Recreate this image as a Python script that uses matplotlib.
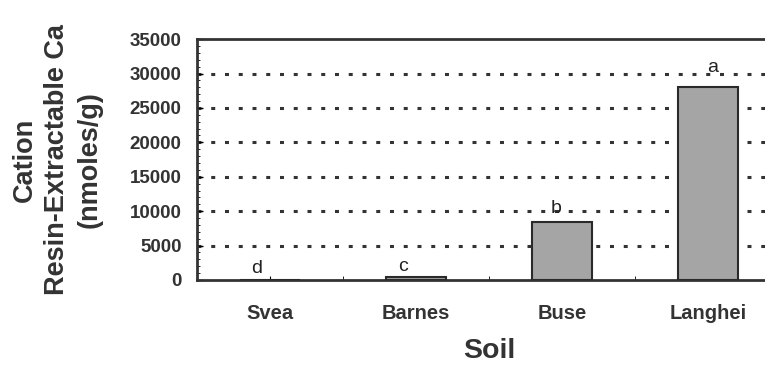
import matplotlib.pyplot as plt
import numpy as np

# Soil data
soils = ["Svea", "Barnes", "Buse", "Langhei"]
ca_values = [50, 400, 8500, 28000]
letters = ["d", "c", "b", "a"]

plt.rcParams['font.family'] = ['Liberation Sans', 'DejaVu Sans']

fig = plt.figure(figsize=(7.65, 3.66), dpi=100)
ax = fig.add_axes([0.2575, 0.235, 0.7635, 0.658])

x = np.arange(len(soils))
ax.bar(x, ca_values, width=0.41, color="#a5a5a5", edgecolor="#2a2a2a",
       linewidth=1.5, zorder=3)

# significance letters
for xi, v, lt in zip(x, ca_values, letters):
    shift = -0.09 if v < 1000 else (0.03 if v > 20000 else -0.04)
    ax.text(xi + shift, v + 900 + 0.045 * v, lt, ha="center", va="baseline",
            fontsize=14, color="#222222", zorder=4)

ax.set_xlim(-0.5, 3.5)
ax.set_ylim(0, 35000)
ax.set_yticks(np.arange(0, 35001, 5000))
ax.set_yticks(np.arange(0, 35001, 1000), minor=True)
ax.set_xticks(x)
ax.set_xticks(np.arange(-0.5, 3.6, 1), minor=True)
ax.set_xticklabels(soils, fontsize=14.5, fontweight="bold", color="#333333")
ax.tick_params(axis="y", labelsize=13.5, labelcolor="#333333", direction="in",
               length=4, width=1, pad=11)
ax.tick_params(axis="y", which="minor", direction="in", length=2)
ax.tick_params(axis="x", direction="in", length=3, pad=17)
ax.tick_params(axis="x", which="minor", direction="in", length=3)
for lbl in ax.get_yticklabels():
    lbl.set_fontweight("bold")

# dotted grid lines
for yv in range(5000, 35000, 5000):
    ax.axhline(yv, color="#333333", linestyle=(0, (1.3, 3.2)), linewidth=2.2,
               zorder=1)

for sp in ax.spines.values():
    sp.set_linewidth(2)
    sp.set_color("#333333")

ax.set_ylabel("Cation\nResin-Extractable Ca\n(nmoles/g)", fontsize=19.5,
              fontweight="bold", color="#333333", linespacing=1.3)
ax.yaxis.set_label_coords(-0.162, 0.5)
ax.set_xlabel("Soil", fontsize=20.5, fontweight="bold", color="#333333",
              labelpad=11)

fig.savefig("out.png", dpi=100)
